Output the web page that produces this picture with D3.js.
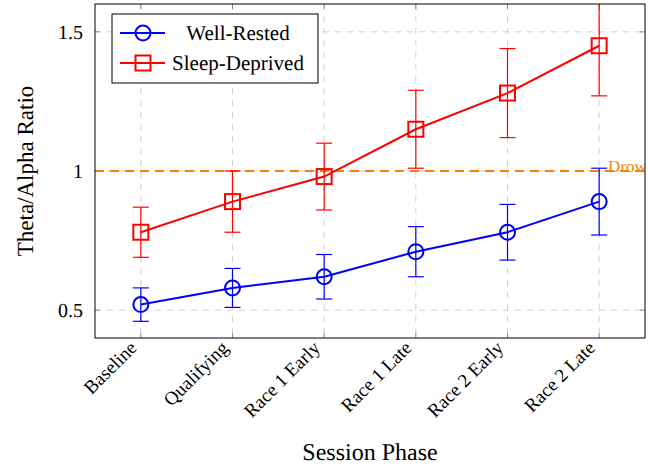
<!DOCTYPE html>
<html>
<head>
<meta charset="utf-8">
<script src="https://cdn.jsdelivr.net/npm/d3@7"></script>
<style>
  body { margin: 0; background: #fff; }
  svg { text-rendering: geometricPrecision; }
</style>
</head>
<body>
<svg id="chart" width="662" height="466" font-family="'Liberation Serif', 'Times New Roman', serif"></svg>
<script>
// Session phases along the x axis
const phases = ["Baseline", "Qualifying", "Race 1 Early", "Race 1 Late", "Race 2 Early", "Race 2 Late"];

// Mean theta/alpha ratio and its error per phase
const wellRested = [0.52, 0.58, 0.62, 0.71, 0.78, 0.89];
const wellRestedErr = [0.06, 0.07, 0.08, 0.09, 0.10, 0.12];
const sleepDeprived = [0.78, 0.89, 0.98, 1.15, 1.28, 1.45];
const sleepDeprivedErr = [0.09, 0.11, 0.12, 0.14, 0.16, 0.18];

const yTicks = [0.5, 1, 1.5];
const yTickLabels = ["0.5", "1", "1.5"];
const threshold = 1.0;
const thresholdLabel = "Drowsiness Threshold";

const seriesList = [
  { name: "Well-Rested", values: wellRested, errors: wellRestedErr, color: "#0000ff", marker: "circle" },
  { name: "Sleep-Deprived", values: sleepDeprived, errors: sleepDeprivedErr, color: "#ff0000", marker: "square" }
];

const svg = d3.select("#chart");
const fontFamily = "Liberation Serif, Times New Roman, serif";
const plot = { left: 95, right: 645, top: 4, bottom: 338 };

const x = d3.scaleLinear().domain([-0.5, phases.length - 0.5]).range([plot.left, plot.right]);
const y = d3.scaleLinear().domain([0.4, 1.6]).range([plot.bottom, plot.top]);

svg.append("defs").append("clipPath").attr("id", "plot-clip")
  .append("rect")
  .attr("x", plot.left).attr("y", plot.top)
  .attr("width", plot.right - plot.left).attr("height", plot.bottom - plot.top);

// Grid lines
const grid = svg.append("g");
grid.selectAll(".gx").data(phases).join("line")
  .attr("x1", (d, i) => x(i)).attr("x2", (d, i) => x(i))
  .attr("y1", plot.top).attr("y2", plot.bottom)
  .attr("stroke", "#d0d0d0").attr("stroke-width", 1).attr("stroke-dasharray", "6,6");
grid.selectAll(".gy").data(yTicks).join("line")
  .attr("x1", plot.left).attr("x2", plot.right)
  .attr("y1", d => y(d)).attr("y2", d => y(d))
  .attr("stroke", "#d0d0d0").attr("stroke-width", 1).attr("stroke-dasharray", "6,6");

// Tick marks on all four sides, pointing inward
const tickLen = 5;
const ticks = svg.append("g").attr("stroke", "#8a8a8a").attr("stroke-width", 1);
phases.forEach((p, i) => {
  ticks.append("line").attr("x1", x(i)).attr("x2", x(i)).attr("y1", plot.bottom).attr("y2", plot.bottom - tickLen);
  ticks.append("line").attr("x1", x(i)).attr("x2", x(i)).attr("y1", plot.top).attr("y2", plot.top + tickLen);
});
yTicks.forEach(v => {
  ticks.append("line").attr("x1", plot.left).attr("x2", plot.left + tickLen).attr("y1", y(v)).attr("y2", y(v));
  ticks.append("line").attr("x1", plot.right).attr("x2", plot.right - tickLen).attr("y1", y(v)).attr("y2", y(v));
});

const content = svg.append("g").attr("clip-path", "url(#plot-clip)");

// Drowsiness threshold, its label runs past the right edge of the axes
content.append("line")
  .attr("x1", plot.left).attr("x2", plot.right)
  .attr("y1", y(threshold)).attr("y2", y(threshold))
  .attr("stroke", "#ff8000").attr("stroke-width", 2).attr("stroke-dasharray", "9,6");
content.append("text")
  .attr("x", 608).attr("y", y(threshold) + 1)
  .attr("fill", "#ff8000").attr("font-size", 17).attr("font-family", fontFamily)
  .text(thresholdLabel);

// Error bars, lines and markers for each group
const line = d3.line().x((d, i) => x(i)).y(d => y(d));
seriesList.forEach(s => {
  const g = content.append("g");
  const capHalf = 8;
  s.values.forEach((v, i) => {
    const lo = v - s.errors[i], hi = v + s.errors[i];
    g.append("line").attr("x1", x(i)).attr("x2", x(i)).attr("y1", y(lo)).attr("y2", y(hi))
      .attr("stroke", s.color).attr("stroke-width", 1.2);
    [lo, hi].forEach(e => {
      g.append("line").attr("x1", x(i) - capHalf).attr("x2", x(i) + capHalf).attr("y1", y(e)).attr("y2", y(e))
        .attr("stroke", s.color).attr("stroke-width", 1.2);
    });
  });
  g.append("path").datum(s.values).attr("d", line)
    .attr("fill", "none").attr("stroke", s.color).attr("stroke-width", 2);
  s.values.forEach((v, i) => drawMarker(g, s.marker, x(i), y(v), s.color));
});

function drawMarker(g, type, cx, cy, color) {
  if (type === "circle") {
    g.append("circle").attr("cx", cx).attr("cy", cy).attr("r", 7.5)
      .attr("fill", "none").attr("stroke", color).attr("stroke-width", 2);
  } else {
    g.append("rect").attr("x", cx - 7.5).attr("y", cy - 7.5).attr("width", 15).attr("height", 15)
      .attr("fill", "none").attr("stroke", color).attr("stroke-width", 2);
  }
}

// Axis frame
svg.append("rect")
  .attr("x", plot.left).attr("y", plot.top)
  .attr("width", plot.right - plot.left).attr("height", plot.bottom - plot.top)
  .attr("fill", "none").attr("stroke", "#000").attr("stroke-width", 1);

// Y tick labels
svg.append("g").selectAll("text").data(yTicks).join("text")
  .attr("x", 83).attr("y", d => y(d)).attr("dy", "0.35em")
  .attr("text-anchor", "end").attr("font-size", 20).attr("font-family", fontFamily)
  .text((d, i) => yTickLabels[i]);

// X tick labels, rotated so they end just left of each tick
svg.append("g").selectAll("text").data(phases).join("text")
  .attr("transform", (d, i) => `translate(${x(i) - 3},${plot.bottom + 11}) rotate(-45)`)
  .attr("text-anchor", "end").attr("font-size", 19).attr("font-family", fontFamily)
  .text(d => d);

// Axis titles
svg.append("text")
  .attr("x", (plot.left + plot.right) / 2).attr("y", 460)
  .attr("text-anchor", "middle").attr("font-size", 24).attr("font-family", fontFamily)
  .text("Session Phase");
svg.append("text")
  .attr("transform", `translate(33,${(plot.top + plot.bottom) / 2}) rotate(-90)`)
  .attr("text-anchor", "middle").attr("font-size", 23).attr("font-family", fontFamily)
  .text("Theta/Alpha Ratio");

// Legend
const legend = svg.append("g").attr("transform", "translate(112,14)");
legend.append("rect").attr("width", 206).attr("height", 69)
  .attr("fill", "#fff").attr("stroke", "#000").attr("stroke-width", 1);
seriesList.forEach((s, k) => {
  const ly = 19 + k * 30;
  legend.append("line").attr("x1", 8).attr("x2", 53).attr("y1", ly).attr("y2", ly)
    .attr("stroke", s.color).attr("stroke-width", 2);
  drawMarker(legend, s.marker, 31, ly, s.color);
  legend.append("text").attr("x", 126).attr("y", ly).attr("dy", "0.35em")
    .attr("text-anchor", "middle").attr("font-size", 21).attr("font-family", fontFamily)
    .text(s.name);
});
</script>
</body>
</html>
